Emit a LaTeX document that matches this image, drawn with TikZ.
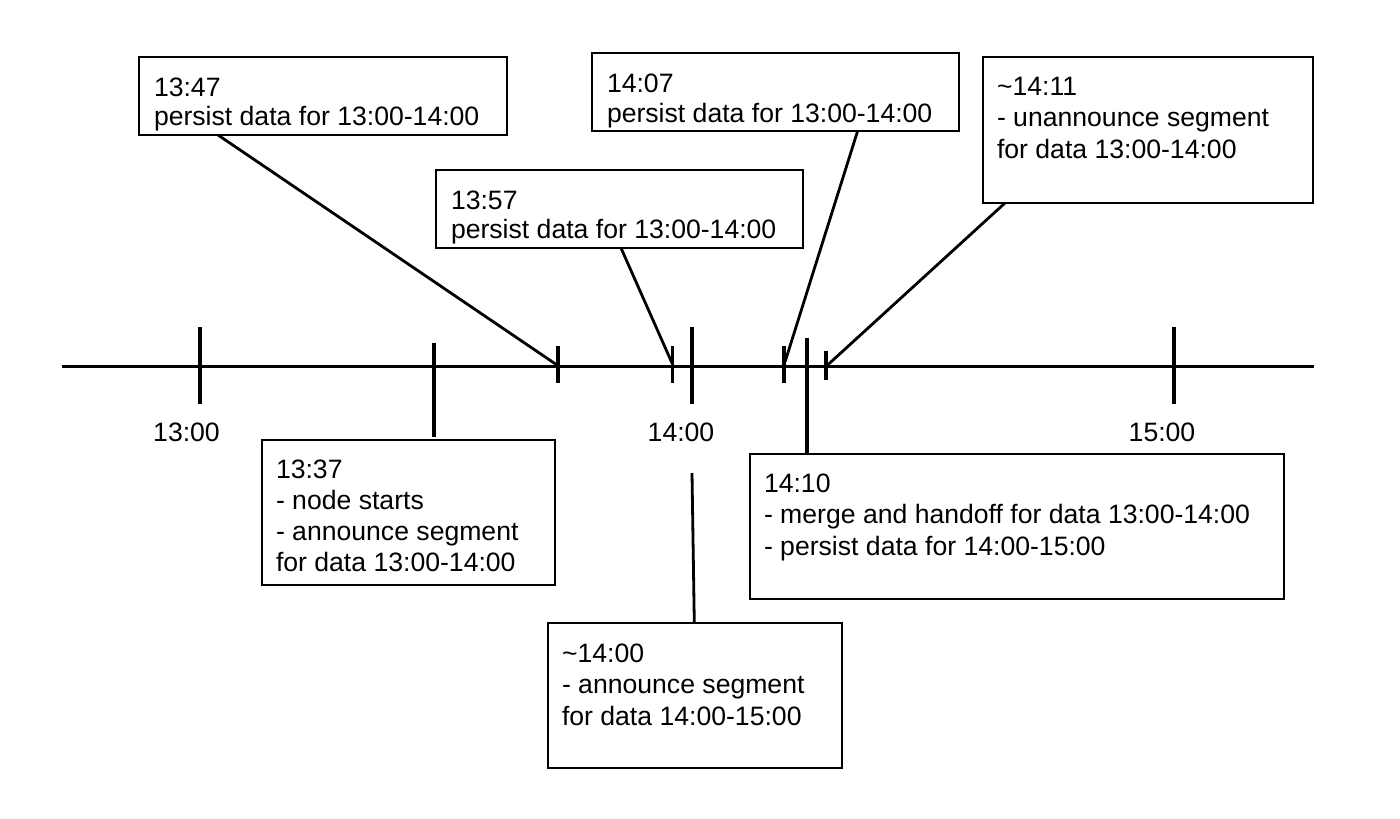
\documentclass[tikz,border=0pt]{standalone}
\usepackage{fontspec}
\setmainfont{Liberation Sans}
\usetikzlibrary{calc}
\begin{document}
\begin{tikzpicture}[x=1pt,y=-1pt,
  frame/.style={draw, line width=1.7pt, anchor=north west, inner sep=0pt, outer sep=0pt},
  txt/.style={anchor=north west, inner sep=0pt, outer sep=0pt, align=left, font=\fontsize{26.6pt}{#1}\selectfont},
  lbl/.style={anchor=base, inner sep=0pt, font=\fontsize{26.6pt}{30pt}\selectfont},
  axisline/.style={line width=3.6pt},
  bigtick/.style={line width=4pt},
  smalltick/.style={line width=3.2pt},
  conn/.style={line width=2.8pt},
]
\useasboundingbox (0,0) rectangle (1400,819);
\fill[white] (0,0) rectangle (1400,819);

% boxes
\node[frame, minimum width=368pt, minimum height=78pt] (b1347) at (139,57) {};
\node[frame, minimum width=367pt, minimum height=78pt] (b1407) at (592,53) {};
\node[frame, minimum width=330pt, minimum height=146pt] (b1411) at (983,57) {};
\node[frame, minimum width=367pt, minimum height=78pt] (b1357) at (436,170) {};
\node[frame, minimum width=293pt, minimum height=145pt] (b1337) at (262,440) {};
\node[frame, minimum width=534pt, minimum height=145pt] (b1410) at (750,454) {};
\node[frame, minimum width=294pt, minimum height=145pt] (b1400) at (548,623) {};

% box texts
\node[txt=29pt] (x1347) at (154,76) {\rule{0pt}{20pt}13:47\\persist data for 13:00-14:00};
\node[txt=30pt] (x1407) at (607,72) {\rule{0pt}{20pt}14:07\\persist data for 13:00-14:00};
\node[txt=31.5pt] (x1411) at (997,75) {\rule{0pt}{20pt}\textasciitilde14:11\\- unannounce segment\\for data 13:00-14:00};
\node[txt=29pt] (x1357) at (451,189) {\rule{0pt}{20pt}13:57\\persist data for 13:00-14:00};
\node[txt=31.3pt] (x1337) at (276,458) {\rule{0pt}{20pt}13:37\\- node starts\\- announce segment\\for data 13:00-14:00};
\node[txt=31.5pt] (x1410) at (764,472) {\rule{0pt}{20pt}14:10\\- merge and handoff for data 13:00-14:00\\- persist data for 14:00-15:00};
\node[txt=31.5pt] (x1400) at (562,642) {\rule{0pt}{20pt}\textasciitilde14:00\\- announce segment\\for data 14:00-15:00};

% axis
\coordinate (a0) at (62,366.5);
\coordinate (a1) at (1314,366.5);
\draw[axisline] (a0) -- (a1);

% hour ticks
\coordinate (k1300t) at (200,327); \coordinate (k1300b) at (200,404);
\coordinate (k1400t) at (692,327); \coordinate (k1400b) at (692,404);
\coordinate (k1500t) at (1174,327); \coordinate (k1500b) at (1174,404);
\draw[bigtick] (k1300t) -- (k1300b);
\draw[bigtick] (k1400t) -- (k1400b);
\draw[bigtick] (k1500t) -- (k1500b);

% event ticks
\coordinate (k1337t) at (433.5,343);
\draw[bigtick] (k1337t) -- ($(b1337.north west)+(171.5,-3)$);
\coordinate (k1410t) at (807,338);
\draw[bigtick] (k1410t) -- ($(b1410.north west)+(57,0)$);
\coordinate (k1347t) at (558,346); \coordinate (k1347b) at (558,383);
\coordinate (k1357t) at (672.5,346); \coordinate (k1357b) at (672.5,383);
\coordinate (k1407t) at (784,346); \coordinate (k1407b) at (784,383);
\coordinate (k1411t) at (826,351); \coordinate (k1411b) at (826,380);
\draw[smalltick] (k1347t) -- (k1347b);
\draw[smalltick] (k1357t) -- (k1357b);
\draw[smalltick] (k1407t) -- (k1407b);
\draw[smalltick] (k1411t) -- (k1411b);

% connectors
\coordinate (e1347) at (557,365);
\coordinate (e1357) at (672,363);
\coordinate (e1407) at (785,362);
\coordinate (e1411) at (826.5,366);
\coordinate (e1400) at (692,473);
\draw[conn] ($(b1347.south west)+(79,0)$) -- (e1347);
\draw[conn] ($(b1357.south west)+(185,0)$) -- (e1357);
\draw[conn] ($(b1407.south west)+(265.6,0)$) -- (e1407);
\draw[conn] ($(b1411.south west)+(22,0)$) -- (e1411);
\draw[conn] (e1400) -- ($(b1400.north west)+(146.3,0)$);

% hour labels
\node[lbl] (l1300) at (186.5,441.7) {13:00};
\node[lbl] (l1400) at (681,441.7) {14:00};
\node[lbl] (l1500) at (1162,441.7) {15:00};
\end{tikzpicture}
\end{document}
